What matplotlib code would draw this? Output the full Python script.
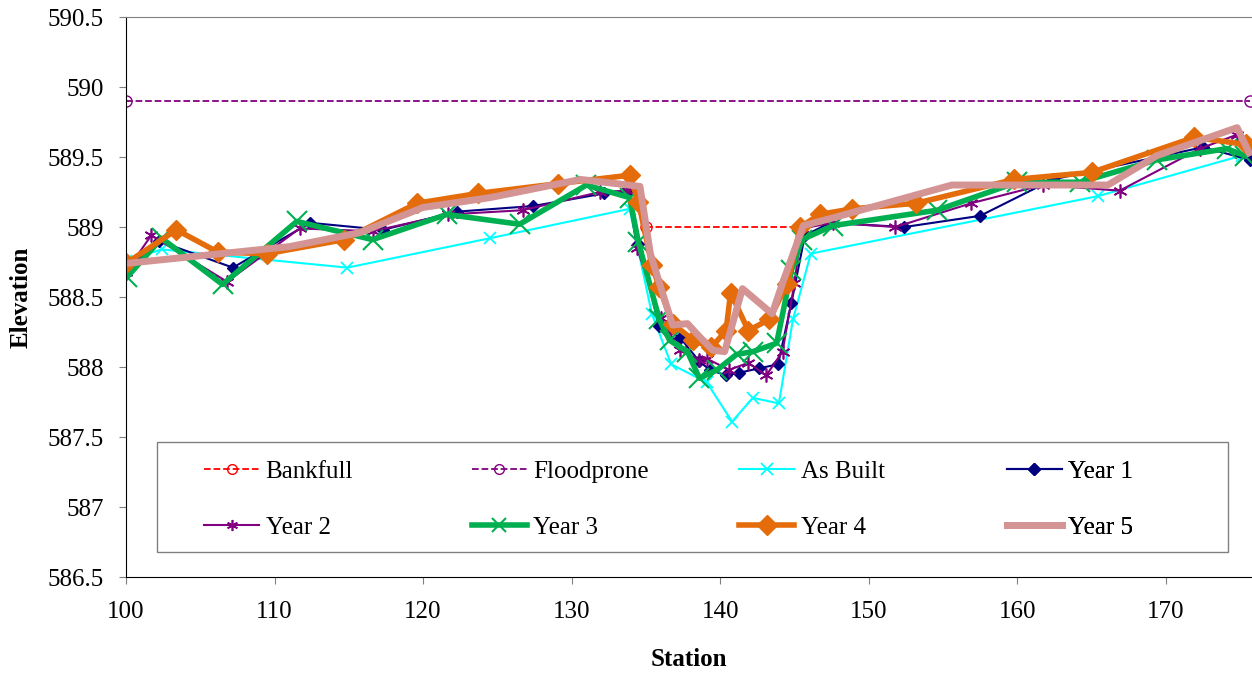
import matplotlib.pyplot as plt
from matplotlib.patches import Rectangle
from matplotlib.ticker import FuncFormatter

plt.rcParams['font.family'] = ['Liberation Serif', 'DejaVu Serif']

# reference lines
bank_x = [135.0, 145.5]
bank_y = [589.0, 589.0]
flood_x = [100.0, 175.65]
flood_y = [589.9, 589.9]

# survey profiles
asbuilt_x = [100.0, 102.4, 114.9, 124.5, 133.9, 135.4, 136.7, 139.1, 140.8, 142.2, 143.95, 144.9, 146.1, 165.4, 175.1, 176.0]
asbuilt_y = [588.76, 588.84, 588.71, 588.92, 589.13, 588.38, 588.02, 587.89, 587.61, 587.78, 587.74, 588.34, 588.81, 589.22, 589.51, 589.5]

y1_x = [100.0, 102.2, 107.2, 112.4, 117.3, 122.3, 127.4, 132.2, 133.8, 134.5, 135.9, 137.3, 138.6, 139.3, 140.4, 141.3, 142.6, 143.9, 144.8, 145.7, 147.4, 152.4, 157.5, 162.4, 172.5, 175.65]
y1_y = [588.7, 588.9, 588.71, 589.03, 588.98, 589.11, 589.15, 589.24, 589.25, 588.88, 588.29, 588.21, 588.04, 587.98, 587.94, 587.96, 587.99, 588.02, 588.46, 588.94, 589.03, 589.0, 589.08, 589.34, 589.57, 589.48]

y2_x = [100.0, 101.7, 106.8, 111.7, 116.6, 121.7, 126.7, 131.9, 133.8, 134.4, 136.0, 137.3, 138.6, 139.1, 140.6, 141.9, 143.1, 144.2, 145.0, 145.5, 147.6, 151.8, 156.9, 161.7, 166.9, 172.3, 174.8, 176.0]
y2_y = [588.68, 588.94, 588.61, 588.99, 588.97, 589.09, 589.12, 589.25, 589.26, 588.85, 588.35, 588.12, 588.05, 588.06, 587.98, 588.03, 587.94, 588.11, 588.6, 588.99, 589.03, 589.0, 589.17, 589.3, 589.26, 589.56, 589.66, 589.55]

y3_x = [100.05, 102.4, 106.5, 111.5, 116.6, 121.6, 126.5, 131.0, 133.9, 134.5, 135.9, 136.6, 137.8, 138.6, 139.8, 141.1, 142.2, 143.8, 144.8, 145.5, 147.6, 154.6, 160.0, 164.2, 169.4, 174.1, 175.3]
y3_y = [588.64, 588.92, 588.59, 589.04, 588.91, 589.09, 589.02, 589.3, 589.21, 588.89, 588.34, 588.19, 588.11, 587.92, 587.98, 588.09, 588.11, 588.17, 588.69, 588.91, 589.01, 589.12, 589.32, 589.32, 589.48, 589.56, 589.51]

y4_x = [100.0, 103.4, 106.2, 109.5, 114.7, 119.6, 123.7, 129.1, 133.9, 134.5, 135.4, 135.9, 136.8, 138.2, 139.4, 140.4, 140.7, 141.9, 143.3, 144.5, 145.4, 146.7, 148.9, 153.2, 159.8, 165.0, 171.9, 175.4]
y4_y = [588.74, 588.98, 588.82, 588.81, 588.91, 589.17, 589.24, 589.31, 589.37, 589.18, 588.73, 588.57, 588.31, 588.19, 588.14, 588.26, 588.53, 588.26, 588.34, 588.59, 589.0, 589.09, 589.13, 589.17, 589.34, 589.39, 589.64, 589.59]

y5_x = [100.0, 111.0, 115.75, 120.0, 124.5, 130.6, 134.6, 135.3, 136.0, 136.8, 137.8, 138.4, 139.5, 140.3, 141.5, 143.5, 144.2, 145.6, 147.4, 155.6, 166.1, 169.4, 174.8, 175.6]
y5_y = [588.74, 588.86, 588.96, 589.14, 589.21, 589.34, 589.29, 588.81, 588.57, 588.30, 588.31, 588.24, 588.12, 588.11, 588.56, 588.38, 588.6, 589.01, 589.06, 589.3, 589.3, 589.51, 589.71, 589.53]

fig = plt.figure(figsize=(12.52, 6.73), dpi=100)
ax = fig.add_axes([0.1006, 0.1426, 0.8994, 0.8321])

lines = []
lines += ax.plot(bank_x, bank_y, color='#FF0000', linestyle='--', linewidth=1.3, marker='o',
                 markersize=8, markerfacecolor='none', label='Bankfull')
lines += ax.plot(flood_x, flood_y, color='#800080', linestyle='--', linewidth=1.3, marker='o',
                 markersize=8, markerfacecolor='none', label='Floodprone')
lines += ax.plot(asbuilt_x, asbuilt_y, color='#00FFFF', linewidth=1.5, marker='x',
                 markersize=9, markeredgewidth=1.3, label='As Built')
lines += ax.plot(y1_x, y1_y, color='#000080', linewidth=1.5, marker='D',
                 markersize=6, label='Year 1')
lines += ax.plot(y2_x, y2_y, color='#800080', linewidth=1.5, marker=(6, 2, 0),
                 markersize=10, markeredgewidth=1.2, label='Year 2')
lines += ax.plot(y3_x, y3_y, color='#00B050', linewidth=4, marker='x',
                 markersize=14, markeredgewidth=1.5, label='Year 3')
lines += ax.plot(y4_x, y4_y, color='#E46C0A', linewidth=4, marker='D',
                 markersize=10, label='Year 4')
lines += ax.plot(y5_x, y5_y, color='#D49494', linewidth=5, label='Year 5')

ax.set_xlim(100, 175.8)
ax.set_ylim(586.5, 590.5)
ax.set_xticks(range(100, 171, 10))
ax.set_yticks([586.5, 587, 587.5, 588, 588.5, 589, 589.5, 590, 590.5])
ax.yaxis.set_major_formatter(FuncFormatter(lambda v, p: '%g' % v))
ax.tick_params(direction='out', length=5, labelsize=18, color='#808080')
ax.tick_params(axis='x', pad=12)
ax.tick_params(axis='y', pad=11)
ax.spines['right'].set_visible(False)
ax.spines['top'].set_color('#808080')

ax.set_xlabel('Station', fontweight='bold', fontsize=18, labelpad=18)
ax.set_ylabel('Elevation', fontweight='bold', fontsize=18, labelpad=11)

# legend box, row-wise entries in 4 evenly spaced columns
ax.add_patch(Rectangle((0.0275, 0.0446), 0.9512, 0.1964, transform=ax.transAxes,
                       facecolor='white', edgecolor='#808080', linewidth=1.0, zorder=4))
legend_ms = [7, 7, 8, 6, 8, 10, 10, None]
for col in range(4):
    hs = [lines[col], lines[col + 4]]
    leg = ax.legend(hs, [h.get_label() for h in hs], loc='center left',
                    bbox_to_anchor=(0.0697 + col * 0.2375, 0.1384), frameon=False,
                    borderpad=0, borderaxespad=0, fontsize=18, handlelength=2.2,
                    handletextpad=0.25, labelspacing=1.34)
    for h, ms in zip(leg.legend_handles, [legend_ms[col], legend_ms[col + 4]]):
        if ms:
            h.set_markersize(ms)
    leg.set_zorder(5)
    ax.add_artist(leg)

plt.savefig('out.png', dpi=100)
